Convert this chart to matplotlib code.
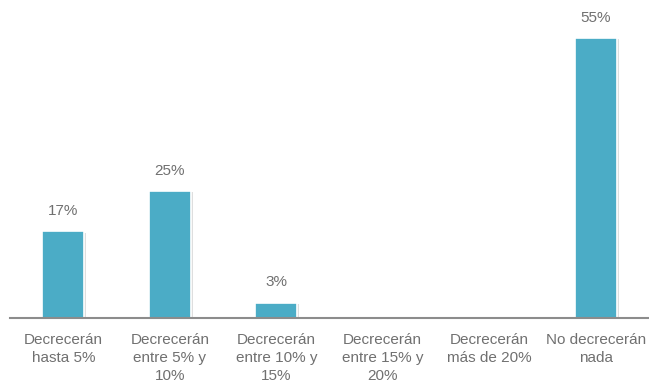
import numpy as np
import matplotlib.pyplot as plt
from matplotlib import patheffects as pe

categorias = ["Decrecerán\nhasta 5%", "Decrecerán\nentre 5% y\n10%", "Decrecerán\nentre 10% y\n15%",
              "Decrecerán\nentre 15% y\n20%", "Decrecerán\nmás de 20%", "No decrecerán\nnada"]
valores = [17, 25, 3, 0, 0, 55]
etiquetas = ["17%", "25%", "3%", "", "", "55%"]

plt.rcParams['font.family'] = ['Liberation Sans', 'DejaVu Sans']
gris = "#707070"

fig = plt.figure(figsize=(6.49, 3.83), dpi=100)
ax = fig.add_axes([10/649, 65/383, 1 - 10/649, (318 - 12.6)/383])

x = np.arange(len(categorias))
barras = ax.bar(x, valores, width=0.39, color="#4bacc6", edgecolor="white", linewidth=1.2, zorder=2,
                path_effects=[pe.SimplePatchShadow(offset=(1.5, -1), shadow_rgbFace="#c8c8c8", alpha=0.6), pe.Normal()])

for xi, v, t in zip(x, valores, etiquetas):
    if t:
        ax.text(xi, v + 2.6, t, ha="center", va="bottom", fontsize=11, color=gris)

ax.set_xlim(-0.5, 5.5)
ax.set_ylim(0, 60)
ax.set_xticks(x)
ax.set_xticklabels(categorias, fontsize=11, color=gris, linespacing=1.37)
ax.tick_params(axis="x", length=0, pad=11)
ax.set_yticks([])
for s in ["top", "right", "left"]:
    ax.spines[s].set_visible(False)
ax.spines["bottom"].set_color("#8c8c8c")
ax.spines["bottom"].set_linewidth(1.5)
ax.spines["bottom"].set_zorder(3)

fig.savefig("out.png", dpi=100)
